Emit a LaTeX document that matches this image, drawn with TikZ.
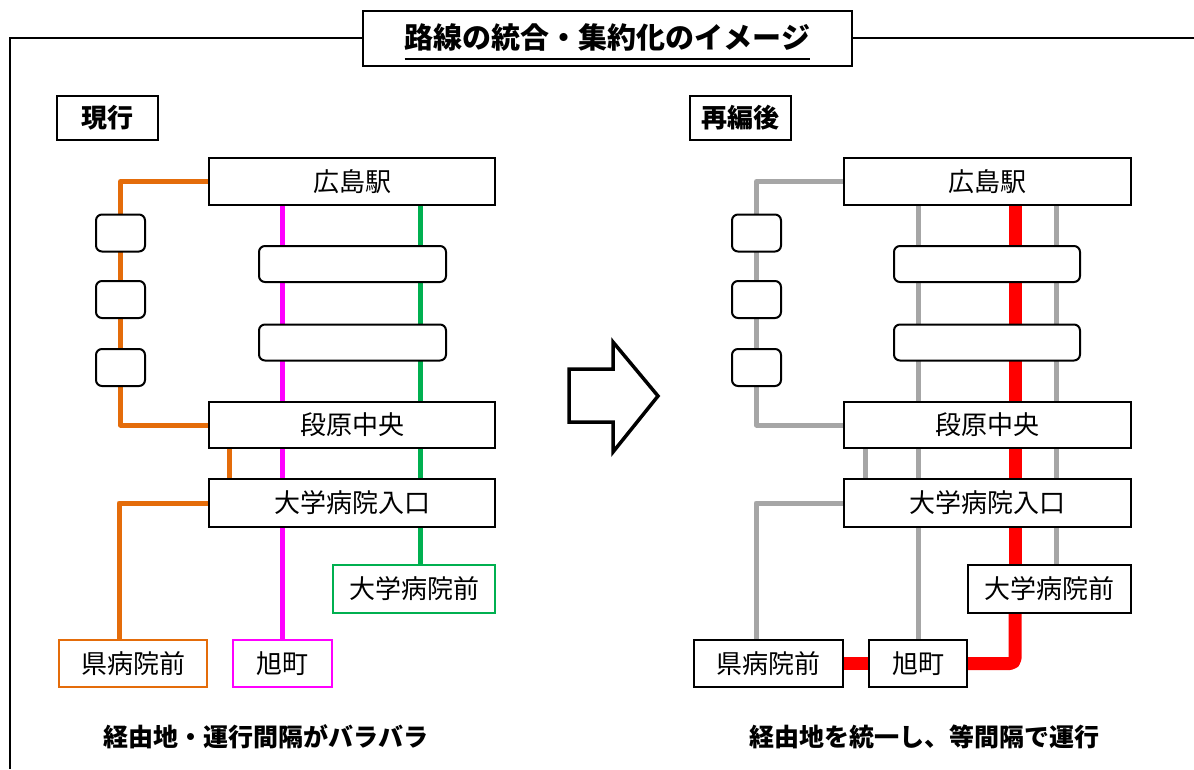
\documentclass[tikz,border=0pt]{standalone}
\usepackage{fontspec}
\setmainfont{Noto Sans CJK JP}
\usetikzlibrary{positioning}
\usetikzlibrary{arrows.meta}
\pgfdeclarelayer{bg}
\pgfsetlayers{bg,main}
\definecolor{rorange}{HTML}{E46C0A}
\definecolor{rmagenta}{HTML}{FF00FF}
\definecolor{rgreen}{HTML}{00B050}
\definecolor{rgray}{HTML}{A6A6A6}
\definecolor{rred}{HTML}{FF0000}

\tikzset{
  stn/.style={draw, fill=white, line width=2pt, inner sep=0pt, minimum width=286pt, minimum height=47pt, font=\stnfont},
  endstn/.style={draw=#1, fill=white, line width=1.8pt, inner sep=0pt, minimum height=47pt, font=\stnfont},
  stopbox/.style={draw, fill=white, line width=2pt, rounded corners=6pt, inner sep=0pt, minimum height=37pt},
  route/.style={line width=5pt, draw=#1, line join=round},
  tagbox/.style={draw, line width=1.8pt, inner sep=0pt, minimum width=101pt, minimum height=44pt, font=\bfseries\fontsize{26}{26}\selectfont},
}

\begin{document}
\begin{tikzpicture}[x=1pt,y=-1pt]

\def\stnfont{\fontsize{26}{26}\selectfont}
\def\notefont{\bfseries\fontsize{25}{25}\selectfont}

\useasboundingbox (0,0) rectangle (1194,769);

% title and frame
\node[draw, line width=2pt, inner sep=0pt, minimum width=489pt, minimum height=55pt] (title) at (607.5,38.5) {};
\node[font=\bfseries\fontsize{29}{29}\selectfont, inner sep=0pt] (titleT) at (607.5,37) {路線の統合・集約化のイメージ};
\draw[line width=1.8pt] ([yshift=-11pt]titleT.base west) -- ([yshift=-11pt]titleT.base east);

\coordinate (frTL) at (10,38);
\coordinate (frBL) at (10,769);
\coordinate (frTR) at (1194,38);
\draw[line width=1.8pt] (title.west |- frTL) -- (frTL) -- (frBL);
\draw[line width=1.8pt] (title.east |- frTR) -- (frTR);

\node[tagbox] (nowL) at (107.5,118) {現行};
\node[tagbox] (newR) at (740.5,118) {再編後};

% current routes
\node[stn] (hiroL) at (352,181.5) {広島駅};
\node[stn, minimum height=46pt] (danL) at (352,425) {段原中央};
\node[stn, minimum height=48pt] (daiL) at (352,503) {大学病院入口};
\node[stopbox, minimum width=187pt, minimum height=36pt] (wL1) at (352.5,264) {};
\node[stopbox, minimum width=187pt, minimum height=36pt] (wL2) at (352.5,342.5) {};
\node[stopbox, minimum width=49pt] (sL1) at (120.5,233) {};
\node[stopbox, minimum width=49pt] (sL2) at (120.5,299.5) {};
\node[stopbox, minimum width=49pt] (sL3) at (120.5,367.5) {};
\node[endstn=rorange, minimum width=148pt] (kenL) at (133,663.5) {県病院前};
\node[endstn=rmagenta, minimum width=99pt] (asaL) at (282.5,663.5) {旭町};
\node[endstn=rgreen, minimum width=162pt, minimum height=48pt] (maeL) at (414,589) {大学病院前};

\coordinate (orL) at (119,0);
\coordinate (orStub) at (229,0);
\coordinate (gnL) at (420,0);

\begin{pgfonlayer}{bg}
\draw[route=rorange] (hiroL.west) -| (sL3.south) |- (danL.west);
\draw[route=rorange] (danL.south -| orStub) -- (daiL.north -| orStub);
\draw[route=rorange] (daiL.west) -| (kenL.north -| orL);
\draw[route=rmagenta] (hiroL.south -| asaL.north) -- (asaL.north);
\draw[route=rgreen] (hiroL.south -| gnL) -- (maeL.north -| gnL);
\end{pgfonlayer}

% arrow
\draw[line width=3.5pt] (569,369) -- (613,369) -- (613,342) -- (658,396) -- (613,452) -- (613,422) -- (569,422) -- cycle;

% new routes
\node[stn, minimum width=287pt] (hiroR) at (987.5,181.5) {広島駅};
\node[stn, minimum width=287pt, minimum height=46pt] (danR) at (987.5,425) {段原中央};
\node[stn, minimum width=287pt, minimum height=48pt] (daiR) at (987.5,503) {大学病院入口};
\node[stopbox, minimum width=186pt, minimum height=36pt] (wR1) at (987,264) {};
\node[stopbox, minimum width=186pt, minimum height=36pt] (wR2) at (987,342.5) {};
\node[stopbox, minimum width=49pt] (sR1) at (756.5,233) {};
\node[stopbox, minimum width=49pt] (sR2) at (756.5,299.5) {};
\node[stopbox, minimum width=49pt] (sR3) at (756.5,367.5) {};
\node[stn, minimum width=149pt] (kenR) at (768.5,663.5) {県病院前};
\node[stn, minimum width=98pt] (asaR) at (918,663.5) {旭町};
\node[stn, minimum width=163pt, minimum height=48pt] (maeR) at (1049.5,589) {大学病院前};

\coordinate (gyA) at (865,0);
\coordinate (gyB) at (1056,0);
\coordinate (gyK) at (756,0);
\coordinate (rdX) at (1015,0);

\begin{pgfonlayer}{bg}
\draw[route=rgray] (hiroR.west) -| (sR3.south) |- (danR.west);
\draw[route=rgray] (danR.south -| gyA) -- (daiR.north -| gyA);
\draw[route=rgray] (daiR.west) -| (kenR.north -| gyK);
\draw[route=rgray] (hiroR.south -| asaR.north) -- (asaR.north);
\draw[route=rgray] (hiroR.south -| gyB) -- (maeR.north -| gyB);
\draw[route=rred, line width=13pt] (hiroR.south -| rdX) -- (maeR.north -| rdX);
\draw[route=rred, line width=13pt, rounded corners=5pt] (maeR.south -| rdX) |- (asaR.east);
\draw[route=rred, line width=13pt] (kenR.east) -- (asaR.west);
\end{pgfonlayer}

\node[font=\notefont] (noteL) at (266,737) {経由地・運行間隔がバラバラ};
\node[font=\notefont] (noteR) at (924,737) {経由地を統一し、等間隔で運行};

\end{tikzpicture}
\end{document}
